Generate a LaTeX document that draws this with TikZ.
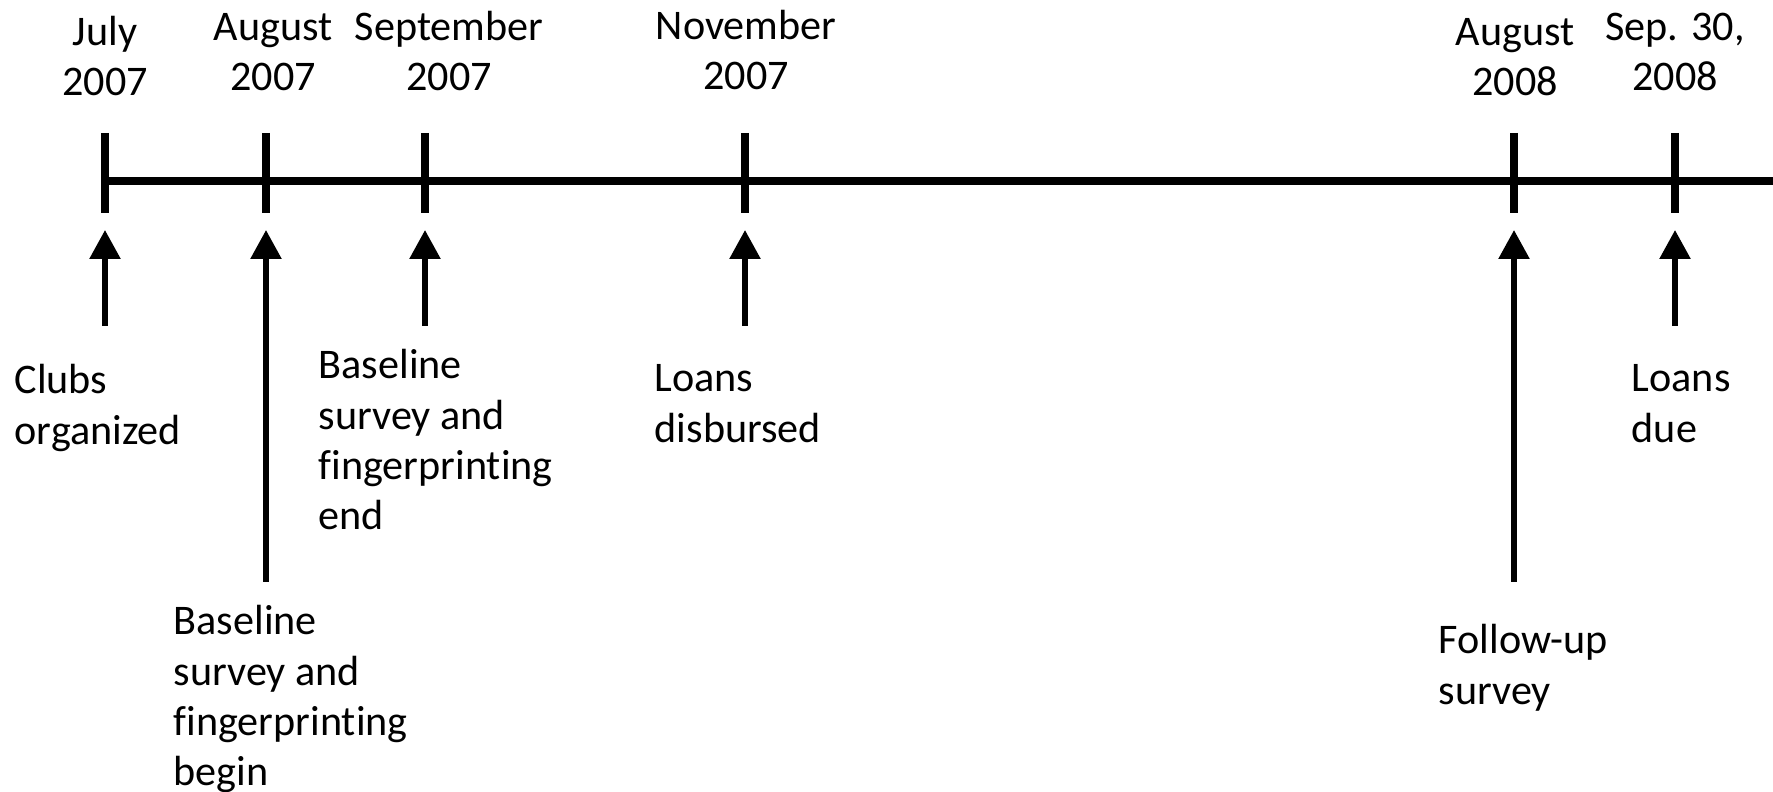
\documentclass[tikz,border=0pt]{standalone}
\usepackage{fontspec}
\setmainfont{Carlito}[Ligatures=NoCommon]
\usetikzlibrary{arrows.meta}
\tikzset{every node/.append style={font=\fontsize{12}{14.3}\selectfont, inner sep=0pt}}

\begin{document}
\begin{tikzpicture}[>={Triangle[width=3mm,length=2.9mm]}]
    \useasboundingbox (0,0) rectangle (17.73,7.91);
    \coordinate (start) at (1.05,6.10);
    \coordinate (stop) at (17.73,6.10);
    \draw[line width=2pt] (start) -- (stop);
    \foreach \name/\x/\len in {jul07/1.05/1.45, aug07/2.66/4.01, sep07/4.25/1.45, nov07/7.45/1.45, aug08/15.14/4.01, sep08/16.75/1.45} {
        \coordinate (\name) at (\x,6.10);
        \draw[line width=2.2pt] ([yshift=0.48cm]\name) -- ([yshift=-0.32cm]\name);
        \coordinate (\name tail) at ([yshift=-\len cm]\name);
        \coordinate (\name tip) at ([yshift=-0.49cm]\name);
        \draw[->, line width=1.6pt] (\name tail) -- (\name tip);
    }
    \node[above, align=center] (jul07date) at (1.05,6.94) {July\\2007};
    \node[above, align=center] (aug07date) at (2.73,6.99) {August\\2007};
    \node[above, align=center] (sep07date) at (4.49,6.99) {September\\2007};
    \node[above, align=center] (nov07date) at (7.46,7.00) {November\\2007};
    \node[above, align=center] (aug08date) at (15.15,6.94) {August\\2008};
    \node[above, align=center] (sep08date) at (16.75,6.99) {Sep. 30,\\2008};
    \node[below right, align=left] (jul07text) at (0.14,4.27) {Clubs\\organized};
    \node[below right, align=left] (aug07text) at (1.73,1.86) {Baseline\\survey and\\fingerprinting\\begin};
    \node[below right, align=left] (sep07text) at (3.18,4.42) {Baseline\\survey and\\fingerprinting\\end};
    \node[below right, align=left] (nov07text) at (6.54,4.27) {Loans\\disbursed};
    \node[below right, align=left] (aug08text) at (14.38,1.67) {Follow-up\\survey};
    \node[below right, align=left] (sep08text) at (16.31,4.27) {Loans\\due};
\end{tikzpicture}
\end{document}
